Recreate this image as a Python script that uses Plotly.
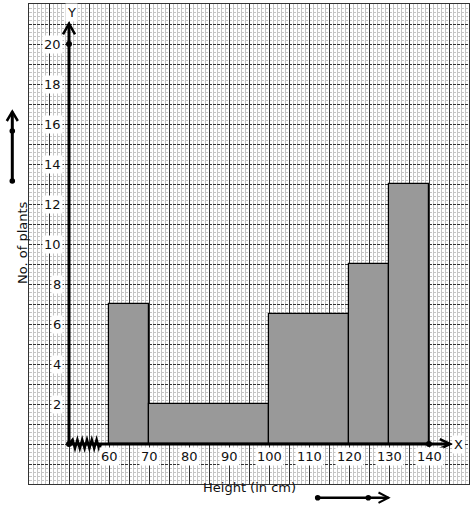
import plotly.graph_objects as go

# ---- data ----
class_start = [60, 70, 100, 120, 130]
class_end = [70, 100, 120, 130, 140]
plant_counts = [7, 2, 6.5, 9, 13]
x_tick_values = [60, 70, 80, 90, 100, 110, 120, 130, 140]
y_tick_values = [2, 4, 6, 8, 10, 12, 14, 16, 18, 20]

FONT = "DejaVu Sans"
TXT = "#111111"
W, H = 474, 510
ML, MR, MT, MB = 29, 5, 4, 26
PW, PH = W - ML - MR, H - MT - MB


def px2paper(px, py):
    return (px - ML) / PW, (H - MB - py) / PH


mids = [(a + b) / 2 for a, b in zip(class_start, class_end)]
widths = [b - a for a, b in zip(class_start, class_end)]

fig = go.Figure()
fig.add_trace(go.Bar(
    x=mids, y=plant_counts, width=widths,
    marker=dict(color="#999999", line=dict(color="black", width=1.2)),
    hoverinfo="skip", showlegend=False,
))

# dots on axes
fig.add_trace(go.Scatter(
    x=[50, 140, 50], y=[0, 0, 20], mode="markers",
    marker=dict(color="black", size=6), cliponaxis=False,
    hoverinfo="skip", showlegend=False,
))

shapes = []
# axes lines
shapes.append(dict(type="line", xref="x", yref="y", x0=50, y0=0, x1=145.2, y1=0,
                   line=dict(color="black", width=3), layer="above"))
shapes.append(dict(type="line", xref="x", yref="y", x0=50, y0=0, x1=50, y1=21,
                   line=dict(color="black", width=3), layer="above"))
# arrowheads (open chevrons)
shapes.append(dict(type="path", xref="x", yref="y",
                   path="M 142.7 0.24 L 145.3 0 L 142.7 -0.24",
                   line=dict(color="black", width=2.5), layer="above"))
shapes.append(dict(type="path", xref="x", yref="y",
                   path="M 48.5 20.48 L 50 21.02 L 51.5 20.48",
                   line=dict(color="black", width=2.5), layer="above"))
# zigzag (axis break)
zz = []
x = 50.9
up = True
while x <= 57.6:
    zz.append((x, 0.22 if up else -0.22))
    up = not up
    x += 0.6
path = "M 50 0 " + " ".join(f"L {a:.2f} {b:.2f}" for a, b in zz) + " L 58 0"
shapes.append(dict(type="path", xref="x", yref="y", path=path,
                   line=dict(color="black", width=2.4), layer="above"))

# left arrow (outside the plot)
x0, y0 = px2paper(12.3, 181)
x1, y1 = px2paper(12.3, 111.7)
shapes.append(dict(type="line", xref="paper", yref="paper", x0=x0, y0=y0, x1=x1, y1=y1,
                   line=dict(color="black", width=3)))
ax, ay = px2paper(6.8, 121)
bx, by = px2paper(17.8, 121)
shapes.append(dict(type="path", xref="paper", yref="paper",
                   path=f"M {ax} {ay} L {x1} {y1} L {bx} {by}",
                   line=dict(color="black", width=2.5)))
# bottom arrow
bx0, byy = px2paper(317.7, 497.7)
bx1, _ = px2paper(388.5, 497.7)
shapes.append(dict(type="line", xref="paper", yref="paper", x0=bx0, y0=byy, x1=bx1, y1=byy,
                   line=dict(color="black", width=2.5)))
cx, cy1 = px2paper(378.5, 492.5)
_, cy2 = px2paper(378.5, 502.9)
shapes.append(dict(type="path", xref="paper", yref="paper",
                   path=f"M {cx} {cy1} L {bx1} {byy} L {cx} {cy2}",
                   line=dict(color="black", width=2)))


def dot(px, py, r=2.8):
    a, b = px2paper(px - r, py + r)
    c, d = px2paper(px + r, py - r)
    return dict(type="circle", xref="paper", yref="paper", x0=a, y0=b, x1=c, y1=d,
                fillcolor="black", line=dict(color="black", width=0))


shapes += [dot(12.3, 181), dot(12.3, 131), dot(317.7, 497.7), dot(368.3, 497.7)]

annotations = []
for v in x_tick_values:
    annotations.append(dict(x=v, y=-0.63, xref="x", yref="y", text=str(v), showarrow=False,
                            font=dict(family=FONT, size=13, color=TXT),
                            bgcolor="white", borderpad=1))
for v in y_tick_values:
    annotations.append(dict(x=48.6, y=v, xref="x", yref="y", text=str(v), showarrow=False,
                            xanchor="right", font=dict(family=FONT, size=13, color=TXT),
                            bgcolor="white", borderpad=1))
annotations.append(dict(x=50.6, y=21.6, xref="x", yref="y", text="Y", showarrow=False,
                        font=dict(family=FONT, size=13, color=TXT), bgcolor="white", borderpad=1))
annotations.append(dict(x=147.3, y=0, xref="x", yref="y", text="X", showarrow=False,
                        font=dict(family=FONT, size=13, color=TXT), bgcolor="white", borderpad=1))
lx, ly = px2paper(12.5, 243)
annotations.append(dict(x=lx, y=ly, xref="paper", yref="paper", text="No. of plants",
                        textangle=-90, showarrow=False, font=dict(family=FONT, size=13, color=TXT)))
hx, hy = px2paper(249, 496.5)
annotations.append(dict(x=hx, y=hy, xref="paper", yref="paper", text="Height (in cm)",
                        showarrow=False, font=dict(family=FONT, size=13, color=TXT)))

fig.update_layout(
    width=W, height=H,
    margin=dict(l=ML, r=MR, t=MT, b=MB, pad=0),
    paper_bgcolor="white", plot_bgcolor="white",
    bargap=0, shapes=shapes, annotations=annotations,
    xaxis=dict(range=[40, 150], tickmode="linear", tick0=40, dtick=5,
               showticklabels=False, ticks="", showgrid=True, gridcolor="#333333", gridwidth=1,
               minor=dict(tick0=40, dtick=1, showgrid=True, gridcolor="#c4c4c4", gridwidth=1),
               zeroline=False, showline=True, mirror=True, linecolor="#333333", linewidth=1),
    yaxis=dict(range=[-2, 22], tickmode="linear", tick0=0, dtick=1,
               showticklabels=False, ticks="", showgrid=True, gridcolor="#333333", gridwidth=1,
               griddash="3px,1px",
               minor=dict(tick0=0, dtick=0.2, showgrid=True, gridcolor="#c4c4c4", gridwidth=1),
               zeroline=False, showline=True, mirror=True, linecolor="#333333", linewidth=1),
    showlegend=False,
)

fig.write_html("out.html", config={"displayModeBar": False},
               post_script="document.body.style.margin='0';document.body.style.padding='0';")
